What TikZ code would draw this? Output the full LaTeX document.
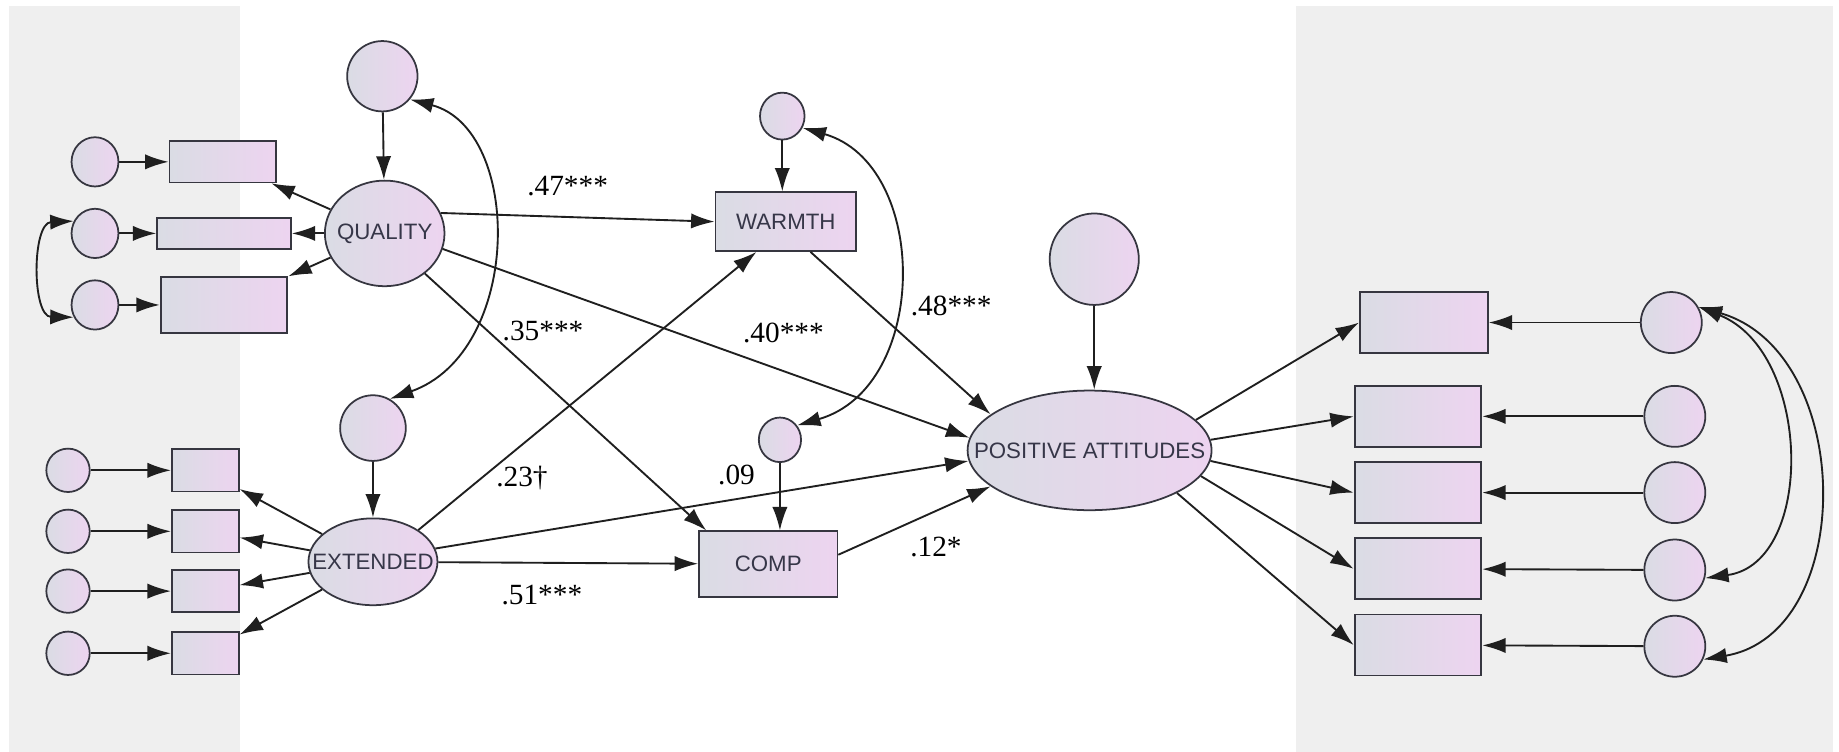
\documentclass[tikz,border=0pt]{standalone}
\usepackage{fontspec}
\setmainfont{Liberation Serif}
\setsansfont{Liberation Sans}
\usetikzlibrary{shapes.geometric,arrows.meta}
\definecolor{panel}{HTML}{EFEFEF}
\definecolor{shadeL}{HTML}{DADCE4}
\definecolor{shadeR}{HTML}{EDD4F0}
\definecolor{edgecol}{HTML}{363640}
\definecolor{txt}{HTML}{363648}
\begin{document}
\begin{tikzpicture}[x=1pt,y=-1pt,
  obj/.style={draw=edgecol, line width=1.5pt, left color=shadeL, right color=shadeR, inner sep=0pt},
  boxnode/.style={obj, rectangle},
  lat/.style={obj, ellipse},
  vname/.style={font=\sffamily\fontsize{19}{22}\selectfont, text=txt},
  coef/.style={font=\fontsize{25}{28}\selectfont, inner sep=0pt},
  arr/.style={-{Latex[length=20pt,width=13pt]}, line width=1.6pt, draw=black!88},
  biarr/.style={{Latex[length=20pt,width=13pt]}-{Latex[length=20pt,width=13pt]}, line width=1.6pt, draw=black!88},
]
\useasboundingbox (0,0) rectangle (1568,641);
\fill[white] (0,0) rectangle (1568,641);
\fill[panel] (8,5) rectangle (205,641);
\fill[panel] (1105,5) rectangle (1563,641);

% QUALITY block
\node[lat, minimum width=60pt, minimum height=60pt] (qe) at (326,65) {};
\node[lat, minimum width=102pt, minimum height=90pt, label={[vname]center:QUALITY}] (Q) at (328,199) {};
\node[boxnode, minimum width=91pt, minimum height=35pt] (q1) at (190,138) {};
\node[boxnode, minimum width=114pt, minimum height=26pt] (q2) at (191,199) {};
\node[boxnode, minimum width=108pt, minimum height=48pt] (q3) at (191,260) {};
\node[lat, minimum width=40pt, minimum height=42pt] (e1) at (81,138) {};
\node[lat, minimum width=40pt, minimum height=42pt] (e2) at (81,199) {};
\node[lat, minimum width=40pt, minimum height=42pt] (e3) at (81,260) {};

% EXTENDED block
\node[lat, minimum width=56pt, minimum height=56pt] (xe) at (318,365) {};
\node[lat, minimum width=110pt, minimum height=74pt, label={[vname]center:EXTENDED}] (X) at (318,479) {};
\node[boxnode, minimum width=57pt, minimum height=36pt] (x1) at (175,401) {};
\node[boxnode, minimum width=57pt, minimum height=36pt] (x2) at (175,453) {};
\node[boxnode, minimum width=57pt, minimum height=36pt] (x3) at (175,504) {};
\node[boxnode, minimum width=57pt, minimum height=36pt] (x4) at (175,557) {};
\node[lat, minimum width=37pt, minimum height=37pt] (f1) at (58,401) {};
\node[lat, minimum width=37pt, minimum height=37pt] (f2) at (58,453) {};
\node[lat, minimum width=37pt, minimum height=37pt] (f3) at (58,504) {};
\node[lat, minimum width=37pt, minimum height=37pt] (f4) at (58,557) {};

% mediators
\node[boxnode, minimum width=120pt, minimum height=50pt, vname] (W) at (670,189) {WARMTH};
\node[lat, minimum width=38pt, minimum height=40pt] (we) at (667,99) {};
\node[boxnode, minimum width=118pt, minimum height=56pt, vname] (C) at (655,481) {COMP};
\node[lat, minimum width=36pt, minimum height=38pt] (ce) at (665,375) {};

% outcome
\node[lat, minimum width=208pt, minimum height=102pt, label={[vname]center:POSITIVE ATTITUDES}] (P) at (929,384) {};
\node[lat, minimum width=76pt, minimum height=78pt] (pe) at (933,221) {};

\node[boxnode, minimum width=109pt, minimum height=52pt] (r1) at (1214,275) {};
\node[boxnode, minimum width=108pt, minimum height=52pt] (r2) at (1209,355) {};
\node[boxnode, minimum width=108pt, minimum height=52pt] (r3) at (1209,420) {};
\node[boxnode, minimum width=108pt, minimum height=52pt] (r4) at (1209,485) {};
\node[boxnode, minimum width=108pt, minimum height=52pt] (r5) at (1209,550) {};
\node[lat, minimum width=52pt, minimum height=52pt] (c1) at (1425,275) {};
\node[lat, minimum width=52pt, minimum height=52pt] (c2) at (1428,355) {};
\node[lat, minimum width=52pt, minimum height=52pt] (c3) at (1428,420) {};
\node[lat, minimum width=52pt, minimum height=52pt] (c4) at (1428,486) {};
\node[lat, minimum width=52pt, minimum height=52pt] (c5) at (1428,551) {};

% measurement arrows, left
\draw[arr] (qe) -- (Q);
\draw[arr] (e1) -- (q1);
\draw[arr] (e2) -- (q2);
\draw[arr] (e3) -- (q3);
\draw[arr] (Q) -- (q1);
\draw[arr] (Q) -- (q2);
\draw[arr] (Q) -- (q3);
\draw[biarr] (e2.150) .. controls (27,190) and (27,270) .. (e3.210);

\draw[arr] (xe) -- (X);
\draw[arr] (f1) -- (x1);
\draw[arr] (f2) -- (x2);
\draw[arr] (f3) -- (x3);
\draw[arr] (f4) -- (x4);
\draw[arr] (X) -- (x1);
\draw[arr] (X) -- (x2);
\draw[arr] (X) -- (x3);
\draw[arr] (X) -- (x4);

\draw[biarr] (qe.-40) .. controls (446,110) and (446,300) .. (xe.60);

% structural paths
\draw[arr] (Q.20) -- (W.west);
\draw[arr] (Q.-15) -- (P.174);
\draw[arr] (Q.-45) -- ([xshift=7pt]C.north west);
\draw[arr] (X.35) -- ([xshift=-25pt]W.south);
\draw[arr] (X.12) -- (P.185);
\draw[arr] (X) -- (C);
\draw[arr] (we) -- (we |- W.north);
\draw[arr] (ce) -- (ce |- C.north);
\draw[arr] (pe) -- (pe |- P.north);
\draw[arr] ([xshift=21pt]W.south) -- (P.160);
\draw[arr] ([yshift=8pt]C.east) -- (P.200);
\draw[biarr] (we.-30) .. controls (793,140) and (793,330) .. (ce.40);

% right measurement
\draw[arr] (P.16) -- (r1.west);
\draw[arr] (P.5) -- (r2.west);
\draw[arr] (P.-5) -- (r3.west);
\draw[arr] (P.-13) -- (r4.west);
\draw[arr] (P.-26) -- (r5.west);
\draw[arr] (c1) -- (r1);
\draw[arr] (c2) -- (r2);
\draw[arr] (c3) -- (r3);
\draw[arr] (c4) -- (r4);
\draw[arr] (c5) -- (r5);
\draw[biarr] (c1.30) .. controls (1545,300) and (1548,480) .. (c4.-15);
\draw[biarr] (c1.30) .. controls (1582,300) and (1584,540) .. (c5.-25);

% coefficients
\node[coef] (l47) at (484,159) {.47***};
\node[coef] (l35) at (463,282) {.35***};
\node[coef] (l40) at (668,284) {.40***};
\node[coef] (l48) at (811,261) {.48***};
\node[coef] (l23) at (445,408) {.23†};
\node[coef] (l09) at (628,405) {.09};
\node[coef] (l51) at (462,507) {.51***};
\node[coef] (l12) at (798,466) {.12*};
\end{tikzpicture}
\end{document}
